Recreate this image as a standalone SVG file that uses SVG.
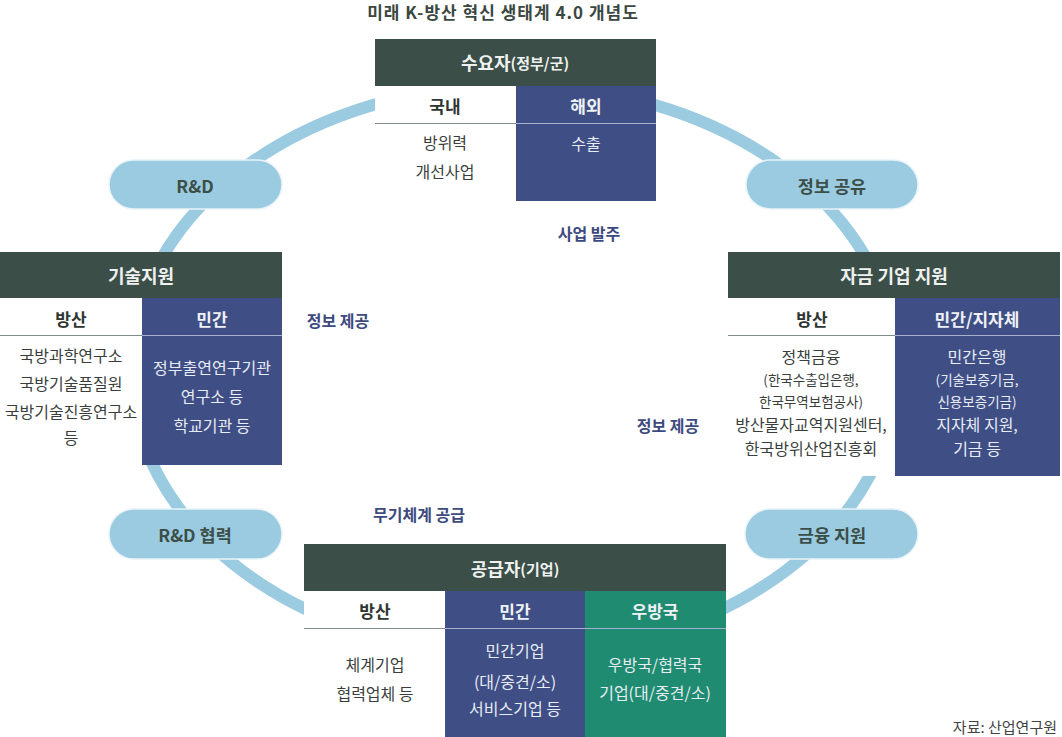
<svg xmlns="http://www.w3.org/2000/svg" width="1062" height="737" viewBox="0 0 1062 737">
<style>
text{font-family:"Noto Sans CJK KR","Noto Sans",sans-serif;text-anchor:middle;dominant-baseline:central}
.title{font-size:17px;font-weight:700;fill:#3b4742;letter-spacing:1px}
.hdr{fill:#3b4e48}
.hdrt{font-size:18px;font-weight:700;fill:#eef1ee}
.hdrs{font-size:15px;font-weight:700}
.blue{fill:#3f4f86}
.green{fill:#1f8b70}
.colw{font-size:17px;font-weight:700;fill:#2f3532}
.colc{font-size:17px;font-weight:700;fill:#eef1f5}
.body{font-size:16px;fill:#3a3f3d}
.bodyc{font-size:16px;fill:#e8ecf4}
.sm{font-size:13.5px}
.div{stroke:#7f8e8a;stroke-width:1}
.divc{stroke:#a6b0cc;stroke-width:1}
.pill{fill:#9bcbe1;stroke:#e9f3f8;stroke-width:1.5}
.pillt{font-size:17.5px;font-weight:700;fill:#3b4e48}
.flow{font-size:16px;font-weight:700;fill:#3d4a80}
.src{font-size:15px;fill:#444;text-anchor:end}
</style>
<text class="title" x="503" y="11">미래 K-방산 혁신 생태계 4.0 개념도</text>
<g id="connectors">
<ellipse cx="514" cy="370" rx="383" ry="285" fill="none" stroke="#9bcbe1" stroke-width="12"/>
</g>
<g id="pill-rd">
<rect class="pill" x="109" y="160" width="173" height="49" rx="24.5"/>
<text class="pillt" x="195" y="185">R&amp;D</text>
</g>
<g id="pill-info-share">
<rect class="pill" x="746" y="160" width="172" height="49" rx="24.5"/>
<text class="pillt" x="832" y="185">정보 공유</text>
</g>
<g id="pill-rd-coop">
<rect class="pill" x="109" y="509" width="173" height="50" rx="25"/>
<text class="pillt" x="195" y="534">R&amp;D 협력</text>
</g>
<g id="pill-finance">
<rect class="pill" x="745" y="509" width="173" height="50" rx="25"/>
<text class="pillt" x="832" y="534">금융 지원</text>
</g>
<g id="node-demand">
<rect x="375" y="39" width="281" height="162" fill="#fff"/>
<rect class="hdr" x="375" y="39" width="281" height="47"/>
<text class="hdrt" x="515" y="62">수요자<tspan class="hdrs">(정부/군)</tspan></text>
<rect class="blue" x="516" y="86" width="140" height="115"/>
<line class="div" x1="375" y1="123.5" x2="516" y2="123.5"/>
<line class="divc" x1="516" y1="123.5" x2="656" y2="123.5"/>
<text class="colw" x="445" y="105">국내</text>
<text class="colc" x="586" y="105">해외</text>
<text class="body" x="445" y="142">방위력</text>
<text class="body" x="445" y="171">개선사업</text>
<text class="bodyc" x="586" y="143">수출</text>
</g>
<g id="node-tech">
<rect x="0" y="252" width="282" height="213" fill="#fff"/>
<rect class="hdr" x="0" y="252" width="282" height="46"/>
<text class="hdrt" x="141" y="275">기술지원</text>
<rect class="blue" x="142" y="298" width="140" height="167"/>
<line class="div" x1="0" y1="335.5" x2="142" y2="335.5"/>
<line class="divc" x1="142" y1="335.5" x2="282" y2="335.5"/>
<text class="colw" x="71" y="318">방산</text>
<text class="colc" x="212" y="318">민간</text>
<text class="body" x="71" y="355">국방과학연구소</text>
<text class="body" x="71" y="383">국방기술품질원</text>
<text class="body" x="71" y="411">국방기술진흥연구소</text>
<text class="body" x="71" y="437">등</text>
<text class="bodyc" x="212" y="367">정부출연연구기관</text>
<text class="bodyc" x="212" y="396">연구소 등</text>
<text class="bodyc" x="212" y="425">학교기관 등</text>
</g>
<g id="node-finance">
<rect x="728" y="252" width="332" height="224" fill="#fff"/>
<rect class="hdr" x="728" y="252" width="332" height="46"/>
<text class="hdrt" x="894" y="275">자금 기업 지원</text>
<rect class="blue" x="895" y="298" width="165" height="178"/>
<line class="div" x1="728" y1="335.5" x2="895" y2="335.5"/>
<line class="divc" x1="895" y1="335.5" x2="1060" y2="335.5"/>
<text class="colw" x="812" y="318">방산</text>
<text class="colc" x="977" y="318">민간/지자체</text>
<text class="body" x="811" y="356">정책금융</text>
<text class="body sm" x="811" y="379">(한국수출입은행,</text>
<text class="body sm" x="811" y="401">한국무역보험공사)</text>
<text class="body" x="811" y="424">방산물자교역지원센터,</text>
<text class="body" x="811" y="448">한국방위산업진흥회</text>
<text class="bodyc" x="977" y="356">민간은행</text>
<text class="bodyc sm" x="977" y="379">(기술보증기금,</text>
<text class="bodyc sm" x="977" y="401">신용보증기금)</text>
<text class="bodyc" x="977" y="424">지자체 지원,</text>
<text class="bodyc" x="977" y="448">기금 등</text>
</g>
<g id="node-supply">
<rect x="304" y="544" width="422" height="193" fill="#fff"/>
<rect class="hdr" x="304" y="544" width="422" height="47"/>
<text class="hdrt" x="515" y="568">공급자<tspan class="hdrs">(기업)</tspan></text>
<rect class="blue" x="445" y="591" width="140" height="146"/>
<rect class="green" x="585" y="591" width="141" height="146"/>
<line class="div" x1="304" y1="628.5" x2="445" y2="628.5"/>
<line class="divc" x1="445" y1="628.5" x2="726" y2="628.5"/>
<text class="colw" x="375" y="610">방산</text>
<text class="colc" x="515" y="610">민간</text>
<text class="colc" x="655" y="610">우방국</text>
<text class="body" x="375" y="664">체계기업</text>
<text class="body" x="375" y="693">협력업체 등</text>
<text class="bodyc" x="515" y="650">민간기업</text>
<text class="bodyc" x="515" y="681">(대/중견/소)</text>
<text class="bodyc" x="515" y="708">서비스기업 등</text>
<text class="bodyc" x="655" y="664">우방국/협력국</text>
<text class="bodyc" x="655" y="692">기업(대/중견/소)</text>
</g>
<text class="flow" x="589" y="233">사업 발주</text>
<text class="flow" x="338" y="320">정보 제공</text>
<text class="flow" x="668" y="425">정보 제공</text>
<text class="flow" x="419" y="514">무기체계 공급</text>
<text class="src" x="1057" y="726">자료: 산업연구원</text>
</svg>
